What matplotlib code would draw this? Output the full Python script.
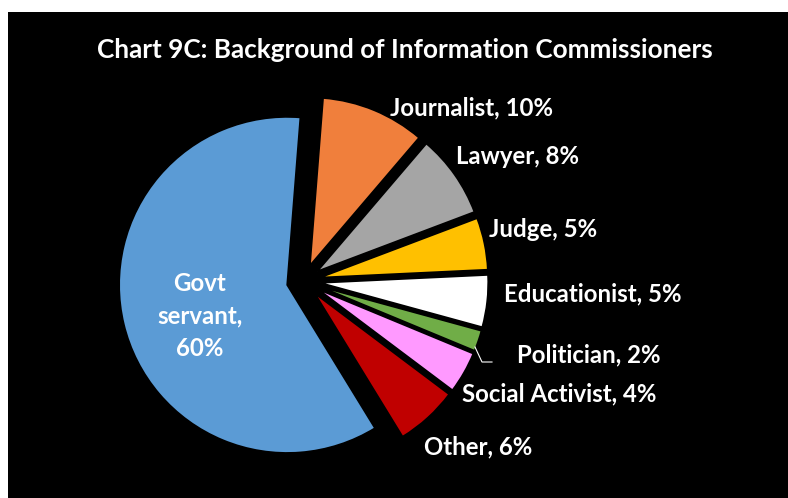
import matplotlib.pyplot as plt
from matplotlib.patches import Rectangle

categories = ["Journalist", "Lawyer", "Judge", "Educationist", "Politician",
              "Social Activist", "Other", "Govt servant"]
shares = [10, 8, 5, 5, 2, 4, 6, 60]
colors = ["#F07F3C", "#A5A5A5", "#FFC000", "#FFFFFF", "#70AD47",
          "#FF99FF", "#C00000", "#5B9BD5"]

W, H = 788, 498
cx, cy, R = 303.5, 281.0, 168.0   # pie centre / radius in pixels

fig = plt.figure(figsize=(W / 100, H / 100), dpi=100, facecolor="white")
fig.patches.append(Rectangle((8 / W, 0), (W - 8) / W, (H - 12) / H,
                             transform=fig.transFigure, facecolor="black",
                             edgecolor="none", zorder=0))

ax = fig.add_axes([0, 0, 1, 1], zorder=2)
ax.set_facecolor("none")
ax.pie(shares, colors=colors, startangle=85.5, counterclock=False,
       explode=[0.10] * len(shares),
       wedgeprops=dict(edgecolor="black", linewidth=1.2))
ax.set_xlim(-cx / R, (W - cx) / R)
ax.set_ylim(-(H - cy) / R, cy / R)
ax.set_aspect("auto")
ax.axis("off")


def px(x, y):
    return (x - cx) / R, (cy - y) / R


font = dict(color="white", fontweight="bold", family="Lato", fontsize=17.3)

# label centres (pixels)
label_pos = [(471, 108), (517, 156), (543, 229), (593, 294), (589, 355),
             (559, 394), (478, 447)]
for name, val, (x, y) in zip(categories[:-1], shares[:-1], label_pos):
    ax.text(*px(x, y), f"{name}, {val}%", ha="center", va="center", **font)

ax.text(*px(200, 316), f"Govt\nservant,\n{shares[-1]}%", ha="center",
        va="center", linespacing=1.5, **font)

# leader line for Politician
lx, ly = zip(px(475, 347), px(482, 362), px(492, 362))
ax.plot(lx, ly, color="white", lw=0.8)

fig.text(405 / W, 1 - 50 / H, "Chart 9C: Background of Information Commissioners",
         ha="center", va="center", color="white", fontweight="bold",
         family="Lato", fontsize=18.8, zorder=3)

fig.savefig("out.png", dpi=100, facecolor="white")
